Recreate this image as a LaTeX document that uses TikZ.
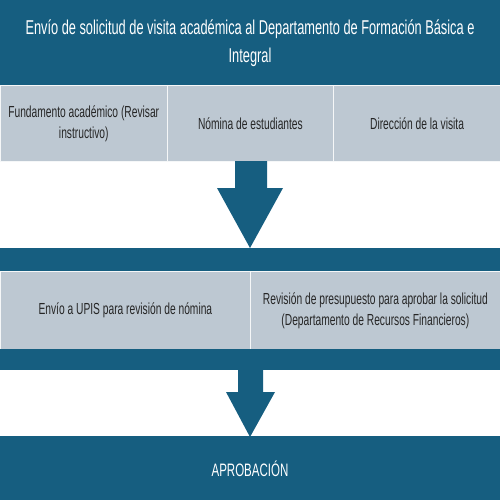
\documentclass[tikz,border=0pt]{standalone}
\usepackage{fontspec}
\setmainfont[FakeStretch=0.64]{Liberation Sans}
\definecolor{dblue}{RGB}{22,94,128}
\definecolor{lgray}{RGB}{189,200,210}
\begin{document}
\begin{tikzpicture}[x=1pt,y=-1pt,
  band/.style={fill=dblue,draw=none,anchor=north west,inner sep=0pt},
  cell/.style={fill=lgray,draw=white!85!lgray,line width=0.8pt,anchor=north west,inner sep=0pt},
  ctext/.style={align=center,font=\fontsize{16}{21}\selectfont,text=black!85},
  arr/.style={fill=dblue,draw=none}]
\useasboundingbox (0,0) rectangle (500,500);
\fill[white] (0,0) rectangle (500,500);
% top band
\node[band,minimum width=500pt,minimum height=85pt] (top) at (0,0) {};
\node[text=white,align=center,font=\fontsize{20}{28}\selectfont] (title) at (250,43) {Envío de solicitud de visita académica al Departamento de Formación Básica e\\Integral};
% row 1
\node[cell,minimum width=166.7pt,minimum height=76pt] (c1) at (0,85) {};
\node[cell,minimum width=166.7pt,minimum height=76pt] (c2) at (166.7,85) {};
\node[cell,minimum width=166.6pt,minimum height=76pt] (c3) at (333.4,85) {};
\node[ctext] (t1) at (c1.center) {Fundamento académico (Revisar\\instructivo)};
\node[ctext] (t2) at (c2.center) {Nómina de estudiantes};
\node[ctext] (t3) at (c3.center) {Dirección de la visita};
% band 2
\node[band,minimum width=500pt,minimum height=23pt] (b2) at (0,248) {};
% arrow 1
\path[arr] (235,161) -- (267,161) -- (267,188) -- (283,188) -- (250,248) -- (217,188) -- (235,188) -- cycle;
% row 2
\node[cell,minimum width=250pt,minimum height=78pt] (d1) at (0,271) {};
\node[cell,minimum width=250pt,minimum height=78pt] (d2) at (250,271) {};
\node[ctext] (u1) at (d1.center) {Envío a UPIS para revisión de nómina};
\node[ctext] (u2) at (d2.center) {Revisión de presupuesto para aprobar la solicitud\\(Departamento de Recursos Financieros)};
% band 3
\node[band,minimum width=500pt,minimum height=21pt] (b3) at (0,349) {};
% arrow 2
\path[arr] (238,370) -- (263,370) -- (263,392) -- (275,392) -- (250,437) -- (226,392) -- (238,392) -- cycle;
% bottom band
\node[band,minimum width=500pt,minimum height=64pt] (bot) at (0,436) {};
\node[text=white,font=\fontsize{18}{20}\selectfont] (apr) at (250,469) {APROBACIÓN};
\end{tikzpicture}
\end{document}
